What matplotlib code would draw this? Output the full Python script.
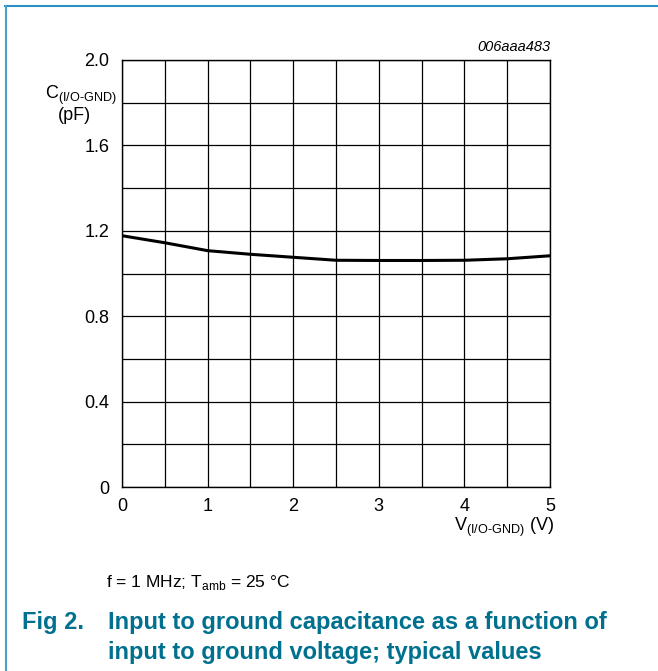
import numpy as np
import matplotlib.pyplot as plt
from matplotlib.lines import Line2D

plt.rcParams['font.family'] = ['Liberation Sans', 'DejaVu Sans']
plt.rcParams['mathtext.fontset'] = 'custom'
plt.rcParams['mathtext.rm'] = 'Liberation Sans'

# curve
voltage = [0, 0.5, 1, 1.5, 2, 2.5, 3, 3.5, 4, 4.5, 5]
capacitance = [1.177, 1.144, 1.107, 1.090, 1.076, 1.062, 1.061, 1.061, 1.062, 1.069, 1.083]

x_ticks = [0, 1, 2, 3, 4, 5]
y_ticks = [0, 0.4, 0.8, 1.2, 1.6, 2.0]
y_ticklabels = ["0", "0.4", "0.8", "1.2", "1.6", "2.0"]

W, H = 658, 671
fig = plt.figure(figsize=(W / 100, H / 100), dpi=100)
ax = fig.add_axes([122 / W, 1 - 487 / H, 428 / W, 427 / H])

ax.plot(voltage, capacitance, color="black", lw=2.2, solid_capstyle="butt")

ax.set_xlim(0, 5)
ax.set_ylim(0, 2.0)
ax.set_xticks(x_ticks)
ax.set_yticks(y_ticks)
ax.set_yticklabels(y_ticklabels)
ax.set_xticks(np.arange(0, 5.01, 0.5), minor=True)
ax.set_yticks(np.arange(0, 2.01, 0.2), minor=True)
ax.grid(True, which="both", color="black", lw=0.9)
ax.tick_params(which="both", length=0, labelsize=13)
ax.tick_params(axis="y", pad=9)
ax.tick_params(axis="x", pad=8)
for s in ax.spines.values():
    s.set_linewidth(1.0)

# axis labels
fig.text(117 / W, 1 - 95 / H, r"C$_{\mathrm{(I/O\text{-}GND)}}$", ha="right", va="center", fontsize=13)
fig.text(74 / W, 1 - 116 / H, "(pF)", ha="center", va="center", fontsize=13)
fig.text(554 / W, 1 - 527 / H, r"V$_{\mathrm{(I/O\text{-}GND)}}$ (V)", ha="right", va="center", fontsize=13)
fig.text(550 / W, 1 - 47 / H, "006aaa483", ha="right", va="center", fontsize=10.5, style="italic")

# conditions and caption
fig.text(106 / W, 1 - 583 / H, r"f = 1 MHz; T$_{\mathrm{amb}}$ = 25 °C", ha="left", va="center", fontsize=12.5)
teal = "#00708f"
fig.text(22 / W, 1 - 623 / H, "Fig 2.", ha="left", va="center", fontsize=17, fontweight="bold", color=teal)
fig.text(108 / W, 1 - 623 / H, "Input to ground capacitance as a function of", ha="left", va="center",
         fontsize=17, fontweight="bold", color=teal)
fig.text(108 / W, 1 - 652 / H, "input to ground voltage; typical values", ha="left", va="center",
         fontsize=17, fontweight="bold", color=teal)

# frame lines at top and left
border = "#2b8fbf"
fig.add_artist(Line2D([5 / W, 1], [1 - 6 / H, 1 - 6 / H], color=border, lw=1.5, transform=fig.transFigure))
fig.add_artist(Line2D([6 / W, 6 / W], [0, 1 - 6 / H], color="#4aa0cc", lw=1.5, transform=fig.transFigure))

fig.savefig("out.png", dpi=100)
